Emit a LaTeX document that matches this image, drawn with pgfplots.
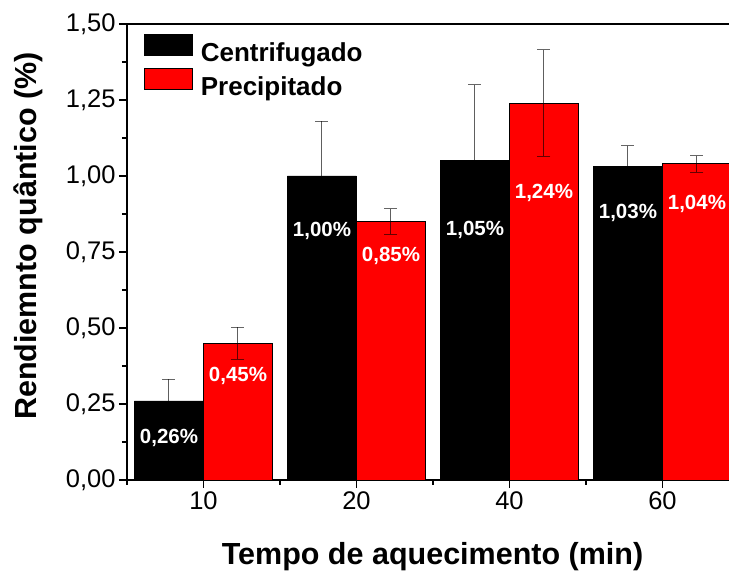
\documentclass[border=0pt]{standalone}
\usepackage{fontspec}
\setmainfont{Liberation Sans}
\usepackage{pgfplots}
\usepackage{pgfplotstable}
\pgfplotsset{compat=1.18}

\definecolor{barred}{RGB}{255,0,0}

\newcommand{\ticksize}{\fontsize{25.5}{30}\selectfont}
\newcommand{\labsize}{\fontsize{30.5}{36}\selectfont\bfseries}
\newcommand{\legsize}{\fontsize{26}{31}\selectfont\bfseries}
\newcommand{\valsize}{\fontsize{20.5}{24}\selectfont\bfseries}

% rendimento quantico (%) por tempo de aquecimento; e = desvio
\pgfplotstableread{
x y e
0 0.26 0.072
1 1.00 0.180
2 1.05 0.250
3 1.03 0.070
}\centrifugado
\pgfplotstableread{
x y e
0 0.45 0.053
1 0.85 0.042
2 1.24 0.175
3 1.04 0.027
}\precipitado

\begin{document}
\begin{tikzpicture}
\begin{axis}[
  scale only axis,
  width=602pt, height=456pt,
  xmin=-0.5, xmax=3.435,
  ymin=0, ymax=1.5,
  ybar=0pt, bar width=0.451,
  axis x line*=box, axis y line*=left,
  xtick={0,1,2,3}, xticklabels={10,20,40,60},
  minor xtick={-0.5,0.5,1.5,2.5},
  xtick pos=bottom, ytick pos=left,
  ytick={0,0.25,0.5,0.75,1,1.25,1.5},
  minor y tick num=1,
  tick align=outside,
  major tick length=8pt, minor tick length=5pt,
  major tick style={black, line width=1.4pt},
  minor tick style={black, line width=1.4pt},
  axis line style={line width=1.6pt},
  tick label style={font=\ticksize},
  /pgf/number format/assume math mode=true,
  yticklabel style={/pgf/number format/.cd, use comma, fixed, fixed zerofill, precision=2},
  xlabel={Tempo de aquecimento (min)},
  ylabel={Rendiemnto quântico (\%)},
  every axis x label/.style={at={(rel axis cs:0.5075,-0.169)}, anchor=center, font=\labsize},
  every axis y label/.style={at={(rel axis cs:-0.164,0.535)}, anchor=center, rotate=90, font=\labsize},
  legend style={at={(rel axis cs:0.028,0.978)}, anchor=north west, draw=none, fill=none,
    font=\legsize, row sep=4.5pt, inner sep=0pt, nodes={inner sep=1pt}},
  legend cell align=left,
  every axis plot post/.append style={legend image code/.code={
    \draw[#1, line width=0.8pt] (0pt,-3pt) rectangle (48pt,18pt);
    \path (55pt,0pt);}},
]
\addplot[bar shift=-0.2255, fill=black, draw=black, line width=0.8pt,
  error bars/.cd, y dir=both, y explicit,
  error bar style={line width=1pt, black, opacity=0.6},
  error mark options={rotate=90, line width=1pt, black, opacity=0.6, mark size=6.5pt}]
  table[x=x, y=y, y error=e] {\centrifugado};
\addlegendentry{Centrifugado}
\addplot[bar shift=0.2255, fill=barred, draw=black, line width=0.8pt,
  error bars/.cd, y dir=both, y explicit,
  error bar style={line width=1pt, black, opacity=0.6},
  error mark options={rotate=90, line width=1pt, black, opacity=0.6, mark size=6.5pt}]
  table[x=x, y=y, y error=e] {\precipitado};
\addlegendentry{Precipitado}

\node[text=white, font=\valsize] at (axis cs:-0.2255,0.138) {0,26\%};
\node[text=white, font=\valsize] at (axis cs:0.2255,0.342) {0,45\%};
\node[text=white, font=\valsize] at (axis cs:0.7745,0.819) {1,00\%};
\node[text=white, font=\valsize] at (axis cs:1.2255,0.737) {0,85\%};
\node[text=white, font=\valsize] at (axis cs:1.7745,0.822) {1,05\%};
\node[text=white, font=\valsize] at (axis cs:2.2255,0.944) {1,24\%};
\node[text=white, font=\valsize] at (axis cs:2.7745,0.878) {1,03\%};
\node[text=white, font=\valsize] at (axis cs:3.2255,0.908) {1,04\%};

\coordinate (ll) at (rel axis cs:0,0);
\coordinate (ur) at (rel axis cs:1,1);
\end{axis}
\pgfresetboundingbox
\path ([shift={(-127pt,-92pt)}]ll) rectangle ([shift={(0pt,24pt)}]ur);
\end{tikzpicture}
\end{document}
